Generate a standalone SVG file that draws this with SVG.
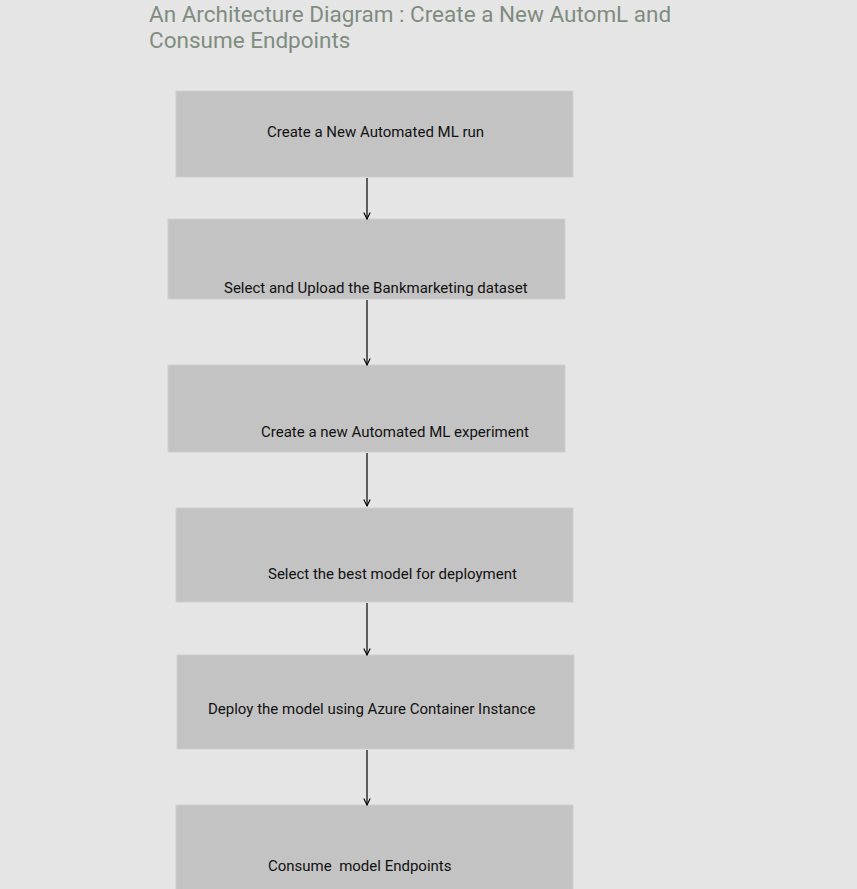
<svg xmlns="http://www.w3.org/2000/svg" width="857" height="889" viewBox="0 0 857 889">
<style>
.t{font-family:Roboto,"Liberation Sans",sans-serif;font-size:15px;fill:#111;white-space:pre}
.title{font-family:Roboto,"Liberation Sans",sans-serif;font-size:22.5px;fill:#7f8c80}
.box{fill:#c3c3c3;stroke:#cfcfcf;stroke-width:1}
.c{stroke:#000;stroke-width:1.2;fill:none}
</style>
<defs>
<marker id="ah" viewBox="0 0 10 10" refX="9" refY="5" markerWidth="8" markerHeight="9" markerUnits="userSpaceOnUse" orient="auto">
<path d="M1,1 L9,5 L1,9" fill="none" stroke="#000" stroke-width="1.4"/>
</marker>
</defs>
<rect width="857" height="889" fill="#e5e5e5"/>
<text class="title" x="149" y="22">An Architecture Diagram : Create a New AutomL and</text>
<text class="title" x="149" y="48">Consume Endpoints</text>
<g id="n1"><rect class="box" x="176" y="91" width="397" height="86"/><text class="t" x="267" y="137">Create a New Automated ML run</text></g>
<g id="n2"><rect class="box" x="168" y="219" width="397" height="80"/><text class="t" x="224" y="293">Select and Upload the Bankmarketing dataset</text></g>
<g id="n3"><rect class="box" x="168" y="365" width="397" height="87"/><text class="t" x="261" y="437">Create a new Automated ML experiment</text></g>
<g id="n4"><rect class="box" x="176" y="508" width="397" height="94"/><text class="t" x="268" y="579">Select the best model for deployment</text></g>
<g id="n5"><rect class="box" x="177" y="655" width="397" height="94"/><text class="t" x="208" y="714">Deploy the model using Azure Container Instance</text></g>
<g id="n6"><rect class="box" x="176" y="805" width="397" height="90"/><text class="t" x="268" y="871">Consume  model Endpoints</text></g>
<g id="connectors">
<line class="c" x1="367" y1="178" x2="367" y2="219" marker-end="url(#ah)"/>
<line class="c" x1="367" y1="300" x2="367" y2="365" marker-end="url(#ah)"/>
<line class="c" x1="367" y1="453" x2="367" y2="506" marker-end="url(#ah)"/>
<line class="c" x1="367" y1="603" x2="367" y2="655" marker-end="url(#ah)"/>
<line class="c" x1="367" y1="750" x2="367" y2="805" marker-end="url(#ah)"/>
</g>
</svg>
